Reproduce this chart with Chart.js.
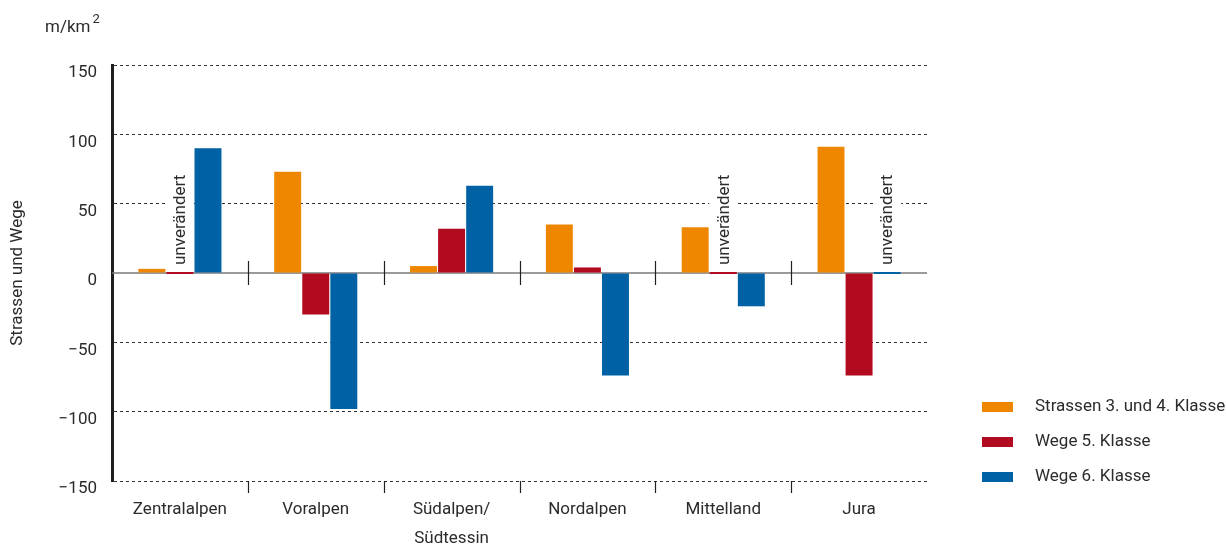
<!DOCTYPE html>
<html lang="de">
<head>
<meta charset="utf-8">
<title>Strassen und Wege – Veränderung nach Region</title>
<script src="https://cdn.jsdelivr.net/npm/chart.js@4.4.1/dist/chart.umd.min.js"></script>
<style>
  html, body { margin: 0; padding: 0; background: #fff; }
  canvas { display: block; }
</style>
</head>
<body>
<canvas id="wegeChart" width="1226" height="545"></canvas>
<script>
// Veränderung der Strassen- und Wegedichte je Region (m/km²)
const regionen    = ["Zentralalpen", "Voralpen", ["Südalpen/", "Südtessin"], "Nordalpen", "Mittelland", "Jura"];
const strassen34  = [3, 73, 5, 35, 33, 91];
const wege5       = [0, -30, 32, 4, 0, -74];
const wege6       = [90, -98, 63, -74, -24, 0];
const yTicks      = [-150, -100, -50, 0, 50, 100, 150];
const serienNamen = ["Strassen 3. und 4. Klasse", "Wege 5. Klasse", "Wege 6. Klasse"];
const hinweis     = "unverändert";

const FARBEN = ["#ef8600", "#b20a1f", "#0061a5"];
const FONT   = 'Roboto, "Liberation Sans", sans-serif';
const FS     = 17;
const TEXT   = "#2b2b2b";

// Nulllinie vor den Balken, damit die dünnen 0-Balken farbig bleiben
const nulllinie = {
    id: "nulllinie",
    beforeDatasetsDraw(chart) {
        const { ctx, chartArea: a, scales: { y } } = chart;
        const y0 = y.getPixelForValue(0);
        ctx.save();
        ctx.strokeStyle = "#7a7a7a";
        ctx.lineWidth = 1.5;
        ctx.beginPath();
        ctx.moveTo(a.left, y0);
        ctx.lineTo(a.right, y0);
        ctx.stroke();
        ctx.restore();
    }
};

// "unverändert"-Hinweise, Regionstrenner, Einheit, Achsentitel und Legende
const beschriftung = {
    id: "beschriftung",
    afterDatasetsDraw(chart) {
        const { ctx, chartArea: a, scales: { x, y } } = chart;
        const y0 = y.getPixelForValue(0);
        ctx.save();
        ctx.font = FS + "px " + FONT;
        chart.data.datasets.forEach(function (ds, di) {
            const meta = chart.getDatasetMeta(di);
            ds.data.forEach(function (v, i) {
                if (v !== 0) return;
                const bar = meta.data[i];
                const w = ctx.measureText(hinweis).width;
                ctx.save();
                ctx.translate(bar.x, y0 - 8);
                ctx.rotate(-Math.PI / 2);
                ctx.fillStyle = "#fff";
                ctx.fillRect(-2, -14, w + 4, 28);
                ctx.fillStyle = TEXT;
                ctx.textBaseline = "middle";
                ctx.fillText(hinweis, 0, 1);
                ctx.restore();
            });
        });

        // kleine Trennstriche zwischen den Regionen
        ctx.strokeStyle = "#222";
        ctx.lineWidth = 1.2;
        for (let i = 1; i < regionen.length; i++) {
            const xb = Math.round((x.getPixelForValue(i - 1) + x.getPixelForValue(i)) / 2) + 0.5;
            ctx.beginPath();
            ctx.moveTo(xb, y0 - 12); ctx.lineTo(xb, y0 + 12);
            ctx.moveTo(xb, a.bottom); ctx.lineTo(xb, a.bottom + 12);
            ctx.stroke();
        }
        ctx.restore();
    },
    afterDraw(chart) {
        const { ctx, chartArea: a } = chart;
        ctx.save();
        ctx.fillStyle = TEXT;

        // Einheit oben links
        ctx.font = FS + "px " + FONT;
        ctx.textBaseline = "alphabetic";
        ctx.fillText("m/km", 45, 32);
        const wu = ctx.measureText("m/km").width;
        ctx.font = "13px " + FONT;
        ctx.fillText("2", 45 + wu + 2, 23);

        // Titel der y-Achse
        ctx.font = FS + "px " + FONT;
        ctx.save();
        ctx.translate(18, (a.top + a.bottom) / 2);
        ctx.rotate(-Math.PI / 2);
        ctx.textAlign = "center";
        ctx.textBaseline = "middle";
        ctx.fillText("Strassen und Wege", 0, 0);
        ctx.restore();

        // Legende rechts
        ctx.textBaseline = "middle";
        serienNamen.forEach(function (name, i) {
            const yy = 407 + i * 35;
            ctx.fillStyle = FARBEN[i];
            ctx.fillRect(982, yy - 5, 31, 10);
            ctx.fillStyle = TEXT;
            ctx.fillText(name, 1035, yy);
        });
        ctx.restore();
    }
};

new Chart(document.getElementById("wegeChart"), {
    type: "bar",
    data: {
        labels: regionen,
        datasets: [
            { label: serienNamen[0], data: strassen34, backgroundColor: FARBEN[0] },
            { label: serienNamen[1], data: wege5,      backgroundColor: FARBEN[1] },
            { label: serienNamen[2], data: wege6,      backgroundColor: FARBEN[2] }
        ]
    },
    options: {
        responsive: false,
        animation: false,
        datasets: { bar: { categoryPercentage: 0.62, barPercentage: 0.96, borderWidth: 0, minBarLength: 2 } },
        layout: { padding: { top: 65, right: 299, left: 0, bottom: 0 } },
        plugins: { legend: { display: false }, tooltip: { enabled: false } },
        scales: {
            x: {
                grid: { display: false },
                border: { display: false },
                ticks: {
                    color: TEXT,
                    font: { family: FONT, size: FS, lineHeight: 1.7 },
                    padding: 6,
                    maxRotation: 0,
                    autoSkip: false
                },
                afterFit: function (s) { s.height = 64; }
            },
            y: {
                min: yTicks[0],
                max: yTicks[yTicks.length - 1],
                afterBuildTicks: function (s) { s.ticks = yTicks.map(function (v) { return { value: v }; }); },
                grid: {
                    color: function (c) { return c.tick && c.tick.value === 0 ? "transparent" : "#333"; },
                    lineWidth: 1,
                    drawTicks: false
                },
                border: { display: true, color: "#1e1e1e", width: 3, dash: [3, 3] },
                ticks: {
                    color: TEXT,
                    font: { family: FONT, size: FS },
                    padding: 15,
                    labelOffset: 8,
                    callback: function (v) { return v < 0 ? "\u2212" + Math.abs(v) : String(v); }
                },
                afterFit: function (s) { s.width = 112; }
            }
        }
    },
    plugins: [nulllinie, beschriftung]
});
</script>
</body>
</html>
